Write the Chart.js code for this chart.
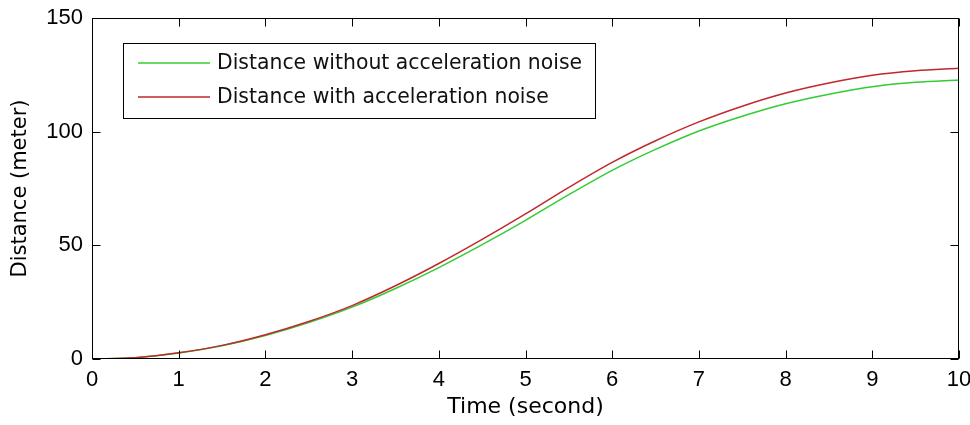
<!DOCTYPE html>
<html><head><meta charset="utf-8">
<script src="https://cdn.jsdelivr.net/npm/chart.js@4/dist/chart.umd.min.js"></script>
<style>html,body{margin:0;padding:0;background:#fff;}canvas{display:block;}</style>
</head><body>
<canvas id="c" width="970" height="425"></canvas>
<script>
// ---- data ----
const times = [0,0.5,1,1.5,2,2.5,3,3.5,4,4.5,5,5.5,6,6.5,7,7.5,8,8.5,9,9.5,10];
const distanceWithoutNoise = [0,0.6,2.6,5.8,10.3,16.0,22.8,31.0,40.2,50.3,61.0,72.3,83.0,92.2,100.3,106.8,112.3,116.5,119.8,121.7,122.7];
const distanceWithNoise    = [0,0.6,2.7,6.0,10.7,16.5,23.5,32.2,42.0,52.6,63.8,75.5,86.5,96.0,104.3,111.2,117.0,121.4,124.8,126.8,127.9];
const seriesLabels = ['Distance without acceleration noise','Distance with acceleration noise'];
const xTickValues = [0,1,2,3,4,5,6,7,8,9,10];
const yTickValues = [0,50,100,150];
const xTitle = 'Time (second)';
const yTitle = 'Distance (meter)';

const toPoints = (xs, ys) => xs.map((x, i) => ({x, y: ys[i]}));

const frameTicks = {
  id: 'frameTicks',
  afterDraw(chart) {
    const {ctx, chartArea: a, scales: {x, y}} = chart;
    ctx.save();
    ctx.strokeStyle = '#000';
    ctx.lineWidth = 1;
    const L = Math.round(a.left) + 0.5, R = Math.round(a.right) - 0.5;
    const T = Math.round(a.top) + 0.5, B = Math.round(a.bottom) - 0.5;
    ctx.strokeRect(L, T, R - L, B - T);
    const len = 8;
    ctx.beginPath();
    x.ticks.forEach(t => {
      const px = Math.round(x.getPixelForValue(t.value)) + 0.5;
      ctx.moveTo(px, B); ctx.lineTo(px, B - len);
      ctx.moveTo(px, T); ctx.lineTo(px, T + len);
    });
    y.ticks.forEach(t => {
      const py = Math.round(y.getPixelForValue(t.value)) + 0.5;
      ctx.moveTo(L, py); ctx.lineTo(L + len, py);
      ctx.moveTo(R, py); ctx.lineTo(R - len, py);
    });
    ctx.stroke();
    ctx.restore();
  }
};

const insideLegend = {
  id: 'insideLegend',
  afterDraw(chart) {
    const ctx = chart.ctx;
    ctx.save();
    ctx.font = '20.4px "DejaVu Sans"';
    const x0 = 123.5, y0 = 43.5;
    const lineX1 = 138, lineX2 = 210, textX = 217;
    let maxW = 0;
    chart.data.datasets.forEach(ds => { maxW = Math.max(maxW, ctx.measureText(ds.label).width); });
    const w = Math.round(textX + maxW + 13 - x0), h = 75;
    ctx.fillStyle = '#fff';
    ctx.fillRect(x0, y0, w, h);
    ctx.strokeStyle = '#000';
    ctx.lineWidth = 1;
    ctx.strokeRect(x0, y0, w, h);
    chart.data.datasets.forEach((ds, i) => {
      const yy = 63 + i * 34;
      ctx.strokeStyle = ds.borderColor;
      ctx.lineWidth = 1.5;
      ctx.beginPath(); ctx.moveTo(lineX1, yy); ctx.lineTo(lineX2, yy); ctx.stroke();
      ctx.fillStyle = '#111';
      ctx.textBaseline = 'middle';
      ctx.textAlign = 'left';
      ctx.fillText(ds.label, textX, yy + 1);
    });
    ctx.restore();
  }
};

new Chart(document.getElementById('c'), {
  type: 'line',
  data: {
    datasets: [
      { label: seriesLabels[0], data: toPoints(times, distanceWithoutNoise), borderColor: '#33cc33', borderWidth: 1.5, pointRadius: 0, cubicInterpolationMode: 'monotone', fill: false, order: 1 },
      { label: seriesLabels[1], data: toPoints(times, distanceWithNoise), borderColor: '#c0282d', borderWidth: 1.5, pointRadius: 0, cubicInterpolationMode: 'monotone', fill: false, order: 0 }
    ]
  },
  options: {
    responsive: false,
    animation: false,
    events: [],
    layout: { padding: { left: 0, right: 11, top: 18, bottom: 0 } },
    plugins: { legend: { display: false }, tooltip: { enabled: false } },
    scales: {
      x: {
        type: 'linear', min: 0, max: 10,
        afterBuildTicks: s => { s.ticks = xTickValues.map(v => ({value: v})); },
        afterFit: s => { s.height = 66; s.paddingLeft = 0; s.paddingRight = 0; },
        grid: { display: false, drawTicks: false },
        border: { display: false },
        ticks: { color: '#000', padding: 8, maxRotation: 0, font: { family: '"Liberation Sans"', size: 22 }, callback: v => String(v) },
        title: { display: true, text: xTitle, color: '#000', font: { family: '"DejaVu Sans"', size: 22 }, padding: { top: 0, bottom: 5 } }
      },
      y: {
        type: 'linear', min: 0, max: 150,
        afterBuildTicks: s => { s.ticks = yTickValues.map(v => ({value: v})); },
        afterFit: s => { s.width = 92; s.paddingTop = 0; s.paddingBottom = 0; },
        grid: { display: false, drawTicks: false },
        border: { display: false },
        ticks: { color: '#000', padding: 9, font: { family: '"Liberation Sans"', size: 22 }, callback: v => String(v) },
        title: { display: true, text: yTitle, color: '#000', font: { family: '"DejaVu Sans"', size: 21 }, padding: { top: 8, bottom: 0 } }
      }
    }
  },
  plugins: [frameTicks, insideLegend]
});
</script>
</body></html>
